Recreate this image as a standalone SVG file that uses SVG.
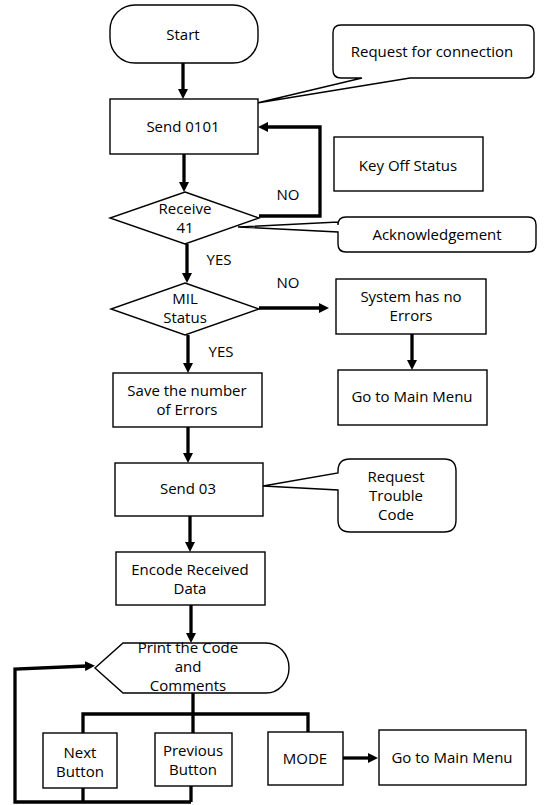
<svg xmlns="http://www.w3.org/2000/svg" width="546" height="805" viewBox="0 0 546 805">
  <style>
    .box { fill: #ffffff; stroke: #000000; stroke-width: 1.4; }
    .flow { fill: none; stroke: #000000; stroke-width: 3.3; }
    .bus { fill: none; stroke: #000000; stroke-width: 3.3; stroke-linejoin: miter; }
    text { font-family: "Open Sans", "Noto Sans", "DejaVu Sans", sans-serif; font-size: 15px; fill: #000000; text-anchor: middle; }
  </style>
  <defs>
    <marker id="arrow" viewBox="0 0 10 10" refX="2" refY="5" markerWidth="10" markerHeight="10" markerUnits="userSpaceOnUse" orient="auto">
      <path d="M0,0 L10,5 L0,10 Z" fill="#000000"/>
    </marker>
  </defs>

  <rect width="546" height="805" fill="#ffffff"/>

  <!-- connectors -->
  <g id="connectors">
    <line class="flow" x1="183" y1="63" x2="183" y2="91" marker-end="url(#arrow)"/>
    <line class="flow" x1="184" y1="154" x2="184" y2="184" marker-end="url(#arrow)"/>
    <path class="flow" d="M259,216 H320 V127 H266" marker-end="url(#arrow)"/>
    <line class="flow" x1="187" y1="244" x2="187" y2="275" marker-end="url(#arrow)"/>
    <line class="flow" x1="259" y1="308" x2="321" y2="308" marker-end="url(#arrow)"/>
    <line class="flow" x1="412" y1="334" x2="412" y2="362" marker-end="url(#arrow)"/>
    <line class="flow" x1="188" y1="335" x2="188" y2="365" marker-end="url(#arrow)"/>
    <line class="flow" x1="188" y1="427" x2="188" y2="455" marker-end="url(#arrow)"/>
    <line class="flow" x1="190" y1="516" x2="190" y2="544" marker-end="url(#arrow)"/>
    <line class="flow" x1="191" y1="605" x2="191" y2="635" marker-end="url(#arrow)"/>
    <!-- button bus -->
    <path class="bus" d="M193,693 V714 M83,733 V714 H308 V732 M193,714 V733"/>
    <!-- return loop from buttons -->
    <path class="bus" d="M83,788 V802 M191,786 V802 M191,802 H15 V669 L87,666" marker-end="url(#arrow)"/>
    <line class="flow" x1="343" y1="758" x2="370" y2="758" marker-end="url(#arrow)"/>
  </g>

  <!-- nodes -->
  <g id="start">
    <rect class="box" x="110" y="5" width="148" height="58" rx="25" ry="25"/>
    <text x="183" y="40">Start</text>
  </g>

  <g id="note-request">
    <path class="box" d="M341,25 H526 Q534,25 534,33 V70 Q534,78 526,78 H410 L257,103 L362,78 H341 Q333,78 333,70 V33 Q333,25 341,25 Z"/>
    <text x="432" y="57">Request for connection</text>
  </g>

  <g id="send-0101">
    <rect class="box" x="110" y="99" width="148" height="55"/>
    <text x="183" y="132">Send 0101</text>
  </g>

  <g id="key-off">
    <rect class="box" x="334" y="137" width="149" height="54"/>
    <text x="408" y="171">Key Off Status</text>
  </g>

  <g id="receive-41">
    <polygon class="box" points="185,192 259,218 185,244 110,218"/>
    <text x="185" y="214">Receive</text>
    <text x="185" y="233">41</text>
  </g>

  <g id="note-ack">
    <path class="box" d="M346,217 H528 Q536,217 536,225 V244 Q536,252 528,252 H346 Q338,252 338,244 V232 L238,227 L338,222 V225 Q338,217 346,217 Z"/>
    <text x="437" y="240">Acknowledgement</text>
  </g>

  <g id="mil-status">
    <polygon class="box" points="185,283 259,309 185,335 111,309"/>
    <text x="185" y="304">MIL</text>
    <text x="185" y="323">Status</text>
  </g>

  <g id="no-errors">
    <rect class="box" x="336" y="279" width="150" height="55"/>
    <text x="411" y="302">System has no</text>
    <text x="411" y="321">Errors</text>
  </g>

  <g id="main-menu-1">
    <rect class="box" x="338" y="370" width="149" height="55"/>
    <text x="412" y="402">Go to Main Menu</text>
  </g>

  <g id="save-errors">
    <rect class="box" x="113" y="373" width="149" height="54"/>
    <text x="187" y="396">Save the number</text>
    <text x="187" y="415">of Errors</text>
  </g>

  <g id="send-03">
    <rect class="box" x="115" y="463" width="148" height="53"/>
    <text x="188" y="494">Send 03</text>
  </g>

  <g id="note-trouble">
    <path class="box" d="M350,459 H444 Q456,459 456,471 V520 Q456,532 444,532 H350 Q338,532 338,520 V490 L263,486 L338,473 V471 Q338,459 350,459 Z"/>
    <text x="396" y="482">Request</text>
    <text x="396" y="501">Trouble</text>
    <text x="396" y="520">Code</text>
  </g>

  <g id="encode">
    <rect class="box" x="116" y="552" width="149" height="53"/>
    <text x="190" y="575">Encode Received</text>
    <text x="190" y="594">Data</text>
  </g>

  <g id="print-code">
    <path class="box" d="M123,643 H266 A23,25 0 0 1 266,693 H123 L95,668 Z"/>
    <text x="188" y="653">Print the Code</text>
    <text x="188" y="672">and</text>
    <text x="188" y="691">Comments</text>
  </g>

  <g id="next-button">
    <rect class="box" x="43" y="733" width="74" height="55"/>
    <text x="80" y="758">Next</text>
    <text x="80" y="777">Button</text>
  </g>

  <g id="previous-button">
    <rect class="box" x="155" y="733" width="77" height="53"/>
    <text x="193" y="756">Previous</text>
    <text x="193" y="775">Button</text>
  </g>

  <g id="mode">
    <rect class="box" x="268" y="732" width="75" height="53"/>
    <text x="305" y="764">MODE</text>
  </g>

  <g id="main-menu-2">
    <rect class="box" x="379" y="730" width="147" height="55"/>
    <text x="452" y="763">Go to Main Menu</text>
  </g>

  <!-- branch labels -->
  <g id="labels">
    <text x="288" y="200">NO</text>
    <text x="219" y="265">YES</text>
    <text x="288" y="288">NO</text>
    <text x="221" y="357">YES</text>
  </g>
</svg>
